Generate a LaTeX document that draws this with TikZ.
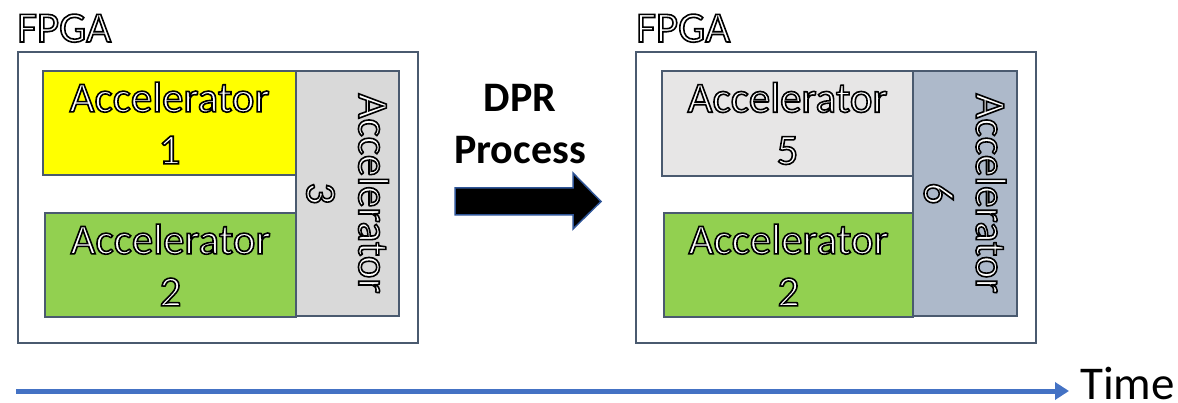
\documentclass[tikz,border=0pt]{standalone}
\usepackage{fontspec}
\setmainfont{Carlito}
\usetikzlibrary{arrows.meta}
\definecolor{bord}{HTML}{4A5A6F}
\definecolor{yel}{HTML}{FFFF00}
\definecolor{grn}{HTML}{92D050}
\definecolor{gry}{HTML}{D9D9D9}
\definecolor{lgry}{HTML}{E7E6E6}
\definecolor{bgry}{HTML}{ADB9CA}
\definecolor{tblue}{HTML}{4472C4}
\definecolor{ablue}{HTML}{2F5597}
\newcommand{\outl}[1]{{\color{white}\special{pdf:literal direct 0 G 2 Tr 1.6 w}#1\special{pdf:literal direct 0 Tr}}}
\tikzset{
  fpgabox/.style={draw=bord, line width=2pt, fill=white, inner sep=0pt},
  accbox/.style={draw=bord, line width=2pt, inner sep=0pt, align=center,
    font=\fontsize{43}{52}\selectfont},
  lbl/.style={font=\fontsize{43}{48}\selectfont, inner sep=0pt},
  dpr/.style={font=\fontsize{42}{52}\selectfont\bfseries, align=center, inner sep=0pt},
}
\begin{document}
\begin{tikzpicture}[x=1pt,y=-1pt]
\useasboundingbox (0,0) rectangle (1178,403);
% left FPGA
\node[fpgabox, minimum width=400pt, minimum height=291pt] (fpgaL) at (217.5,197.5) {};
\node[lbl, anchor=base west] (fpgaLlbl) at (17,42) {\outl{FPGA}};
\node[accbox, fill=yel, minimum width=253pt, minimum height=104pt] (a1) at (169.5,123) {\outl{Accelerator}\\\outl{1}};
\node[accbox, fill=grn, minimum width=251pt, minimum height=104pt] (a2) at (170.5,265) {\outl{Accelerator}\\\outl{2}};
\node[accbox, fill=gry, minimum width=103pt, minimum height=245pt] (a3) at (347.5,193.5) {};
\node[accbox, draw=none, rotate=-90] (a3t) at (a3.center) {\outl{Accelerator}\\\outl{3}};
% right FPGA
\node[fpgabox, minimum width=400pt, minimum height=291pt] (fpgaR) at (836,197.5) {};
\node[lbl, anchor=base west] (fpgaRlbl) at (636,42) {\outl{FPGA}};
\node[accbox, fill=lgry, minimum width=251pt, minimum height=105pt] (a5) at (787.5,123.5) {\outl{Accelerator}\\\outl{5}};
\node[accbox, fill=grn, minimum width=249pt, minimum height=104pt] (a2r) at (788.5,265) {\outl{Accelerator}\\\outl{2}};
\node[accbox, fill=bgry, minimum width=104pt, minimum height=245pt] (a6) at (965,193.5) {};
\node[accbox, draw=none, rotate=-90] (a6t) at (a6.center) {\outl{Accelerator}\\\outl{6}};
% DPR process
\node[dpr] (dprt) at (520,124) {DPR\\Process};
\draw[fill=black, draw=ablue, line width=1.5pt]
  (455,188) -- (573,188) -- (573,173) -- (601,201.5) -- (573,229) -- (573,215) -- (455,215) -- cycle;
% time axis
\node[lbl, anchor=base west, font=\fontsize{47}{52}\selectfont] (time) at (1080,399) {Time};
\coordinate (tstart) at (16,391);
\coordinate (tend) at (1069,391);
\draw[tblue, line width=5pt, -{Triangle[length=14pt,width=17pt]}] (tstart) -- (tend);
\end{tikzpicture}
\end{document}
